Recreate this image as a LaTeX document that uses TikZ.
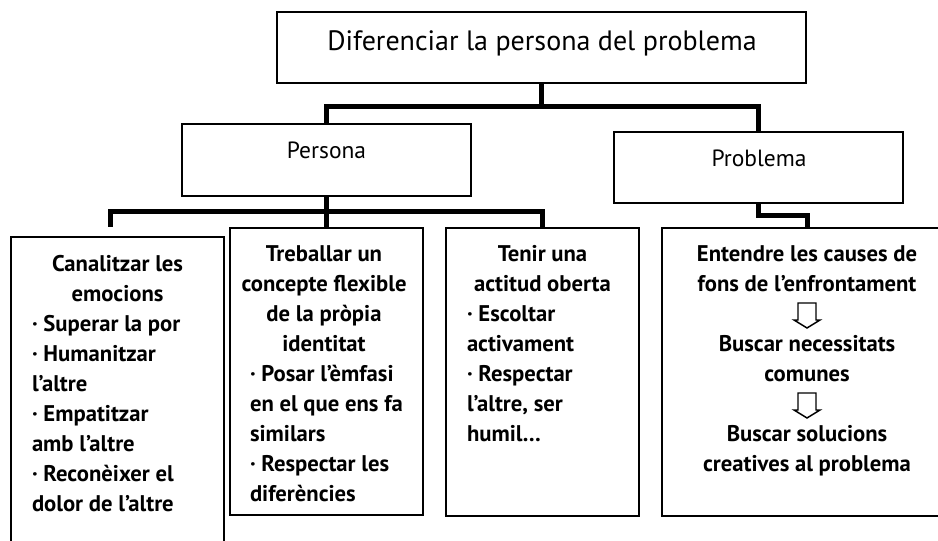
\documentclass[tikz,border=0pt]{standalone}
\usepackage{fontspec}
\setmainfont{PT Sans}
\newcommand{\lft}[2]{\makebox[#1][l]{#2}}
\begin{document}
\begin{tikzpicture}[x=0.75pt,y=-0.75pt,
  box/.style={draw, line width=1.1pt, inner sep=0pt, outer sep=0pt},
  conn/.style={line width=3.75pt},
  ttl/.style={font=\fontsize{21}{25}\selectfont, anchor=base, inner sep=0pt},
  lbl/.style={font=\fontsize{17.6}{20}\selectfont, anchor=base, inner sep=0pt},
  body/.style={font=\bfseries\fontsize{17}{22.5}\selectfont, align=center, anchor=north, inner sep=0pt},
  warrow/.style={draw, line width=1.1pt, line join=miter, fill=white}
]
\useasboundingbox (0,0) rectangle (938,541);
\clip (0,0) rectangle (938,541);
% boxes
\node[box, minimum width=396.75pt, minimum height=53.25pt] (top) at (541.5,47.5) {};
\node[box, minimum width=216.75pt, minimum height=54pt] (persona) at (326.5,160) {};
\node[box, minimum width=216.75pt, minimum height=53.25pt] (problema) at (758.5,167.5) {};
\node[box, minimum width=159.75pt, minimum height=242.25pt] (b1) at (117.5,398.5) {};
\node[box, minimum width=144.75pt, minimum height=215.25pt] (b2) at (326.5,371.5) {};
\node[box, minimum width=144.75pt, minimum height=216pt] (b3) at (542.5,372) {};
\node[box, minimum width=217.5pt, minimum height=216pt] (b4) at (807,372) {};
% connectors
\coordinate (e1) at (110,227);
\draw[conn] (top.south) -- ++(0,24) -| (persona.north);
\draw[conn] (top.south) -- ++(0,24) -| (problema.north);
\draw[conn] (persona.south) -- ++(0,16) -| (e1);
\draw[conn] (persona.south) -- ++(0,16) -| (b2.north);
\draw[conn] (persona.south) -- ++(0,16) -| (b3.north);
\draw[conn] (problema.south) -- ++(0,13) -| (b4.north);
% texts
\node[ttl] (ttop) at (542,51) {Diferenciar la persona del problema};
\node[lbl] (tpersona) at (326.5,159) {Persona};
\node[lbl] (tproblema) at (759,166.7) {Problema};
\node[body] (t1) at (117.5,255) {Canalitzar les\\ emocions\\
  \lft{128.25pt}{· Superar la por}\\ \lft{128.25pt}{· Humanitzar}\\ \lft{128.25pt}{l’altre}\\
  \lft{128.25pt}{· Empatitzar}\\ \lft{128.25pt}{amb l’altre}\\ \lft{128.25pt}{· Reconèixer el}\\
  \lft{128.25pt}{dolor de l’altre}};
\node[body] (t2) at (324,245) {Treballar un\\ concepte flexible\\ de la pròpia\\ identitat\\
  \lft{111pt}{· Posar l’èmfasi}\\ \lft{111pt}{en el que ens fa}\\ \lft{111pt}{similars}\\
  \lft{111pt}{· Respectar les}\\ \lft{111pt}{diferències}};
\node[body] (t3) at (542.5,245) {Tenir una\\ actitud oberta\\
  \lft{113.25pt}{· Escoltar}\\ \lft{113.25pt}{activament}\\ \lft{113.25pt}{· Respectar}\\
  \lft{113.25pt}{l’altre, ser}\\ \lft{113.25pt}{humil…}};
\node[body] (t4) at (807,245) {Entendre les causes de\\ fons de l’enfrontament\\
  \mbox{}\\ Buscar necessitats\\ comunes\\
  \mbox{}\\ Buscar solucions\\ creatives al problema};
% white down arrows between the steps
\foreach \dy in {0,90}{
  \draw[warrow, yshift=-\dy*0.75pt] (798,303) -- (816,303) -- (816,320) -- (820,320)
     -- (807,328) -- (794,320) -- (798,320) -- cycle;
}
\end{tikzpicture}
\end{document}
